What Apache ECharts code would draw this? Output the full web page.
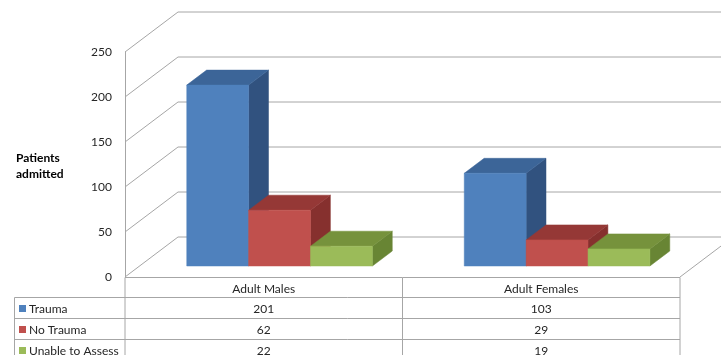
<!DOCTYPE html>
<html><head><meta charset="utf-8">
<script src="https://cdn.jsdelivr.net/npm/echarts@6/dist/echarts.min.js"></script>
<style>html,body{margin:0;padding:0;background:#fff}#c{width:721px;height:355px}</style>
</head><body><div id="c"></div>
<script>
const categories = ['Adult Males', 'Adult Females'];
const seriesNames = ['Trauma', 'No Trauma', 'Unable to Assess'];
const trauma = [201, 103];
const noTrauma = [62, 29];
const unableToAssess = [22, 19];
const yTicks = [0, 50, 100, 150, 200, 250];
const yTitle = ['Patients', 'admitted'];

const seriesValues = [trauma, noTrauma, unableToAssess];
const FONT = 'Lato, "Open Sans", sans-serif';
const faceColors = [
  {front: '#4F81BD', top: '#3C6598', side: '#31527F'},
  {front: '#C0504D', top: '#953836', side: '#86302E'},
  {front: '#9BBB59', top: '#76923C', side: '#688534'}
];
const DX = 53, DY = -40;          // full depth offset of the 3D box
const D0 = 0.275, D1 = 0.65;      // bar depth range (fraction)
const GAP = 0.17, BW = 0.223;     // bar layout inside a category
const GRID_COLOR = '#A6A6A6';
const TEXT = '#262626';

const chart = echarts.init(document.getElementById('c'), null, {renderer: 'canvas'});

function wallItem(params, api) {
  const v = api.value(0);
  const p = api.coord([0, v]);
  const q = api.coord([categories.length, v]);
  const children = [{
    type: 'polyline',
    shape: {points: [[p[0], p[1]], [p[0] + DX, p[1] + DY], [q[0] + DX, q[1] + DY]]},
    style: {stroke: GRID_COLOR, lineWidth: 1, fill: null}
  }];
  if (v === 0) {
    children.push({
      type: 'line',
      shape: {x1: q[0], y1: q[1], x2: q[0] + DX, y2: q[1] + DY},
      style: {stroke: GRID_COLOR, lineWidth: 1}
    });
  }
  return {type: 'group', children};
}

function barRenderer(k) {
  return function (params, api) {
    const i = api.value(0), v = api.value(1);
    const x0 = i + GAP + k * BW, x1 = x0 + BW;
    const a = api.coord([x0, 0]), b = api.coord([x1, v]);
    const fx = DX * D0, fy = DY * D0, bx = DX * D1, by = DY * D1;
    const c = faceColors[k];
    const L = a[0], R = b[0], T = b[1], B = a[1];
    return {type: 'group', children: [
      {type: 'polygon', shape: {points: [[R + fx, T + fy], [R + bx, T + by], [R + bx, B + by], [R + fx, B + fy]]},
        style: {fill: c.side, stroke: c.side, lineWidth: 0.5}},
      {type: 'polygon', shape: {points: [[L + fx, T + fy], [R + fx, T + fy], [R + bx, T + by], [L + bx, T + by]]},
        style: {fill: c.top, stroke: c.top, lineWidth: 0.5}},
      {type: 'rect', shape: {x: L + fx, y: T + fy, width: R - L, height: B - T},
        style: {fill: c.front, stroke: c.front, lineWidth: 0.5}}
    ]};
  };
}

function tableItem(params, api) {
  const p0 = api.coord([0, 0]);
  const pm = api.coord([1, 0]);
  const p2 = api.coord([categories.length, 0]);
  const top = Math.round(p0[1]) + 0.5;
  const HH = 20, RH = 21;
  const leftX = 14.5;
  const bottom = top + HH + RH * seriesNames.length;
  const ch = [];
  const ln = (x1, y1, x2, y2) => ch.push({type: 'line', shape: {x1, y1, x2, y2}, style: {stroke: GRID_COLOR, lineWidth: 1}});
  ln(p0[0], top, p2[0], top);
  for (let r = 0; r <= seriesNames.length; r++) ln(leftX, top + HH + RH * r, p2[0], top + HH + RH * r);
  ln(leftX, top + HH, leftX, bottom);
  ln(p0[0], top, p0[0], bottom);
  ln(pm[0], top, pm[0], bottom);
  ln(p2[0], top, p2[0], bottom);
  categories.forEach((cat, i) => {
    const cx = api.coord([i + 0.5, 0])[0];
    ch.push({type: 'text', style: {text: cat, x: cx, y: top + HH / 2 + 2, align: 'center', verticalAlign: 'middle',
      font: '12px ' + FONT, fill: TEXT}});
    seriesValues.forEach((vals, r) => {
      ch.push({type: 'text', style: {text: String(vals[i]), x: cx, y: top + HH + RH * r + RH / 2 + 1,
        align: 'center', verticalAlign: 'middle', font: '12px ' + FONT, fill: TEXT}});
    });
  });
  seriesNames.forEach((name, r) => {
    const cy = top + HH + RH * r + RH / 2;
    ch.push({type: 'rect', shape: {x: 19, y: cy - 3, width: 7, height: 7}, style: {fill: faceColors[r].front}});
    ch.push({type: 'text', style: {text: name, x: 29, y: cy + 1, align: 'left', verticalAlign: 'middle',
      font: '12px ' + FONT, fill: TEXT}});
  });
  return {type: 'group', children: ch};
}

const series = [{
  type: 'custom', name: 'walls', renderItem: wallItem, clip: false, silent: true,
  data: yTicks.map(v => [v]), encode: {y: 0}, z: 1
}];
seriesValues.forEach((vals, k) => {
  series.push({
    type: 'custom', name: seriesNames[k], renderItem: barRenderer(k), clip: false,
    data: vals.map((v, i) => [i, v]), encode: {x: 0, y: 1}, z: 3
  });
});
series.push({type: 'custom', name: 'table', renderItem: tableItem, clip: false, silent: true,
  data: [[0, 0]], encode: {x: 0, y: 1}, z: 4});

chart.setOption({
  animation: false,
  backgroundColor: '#fff',
  textStyle: {fontFamily: FONT},
  grid: {left: 125, right: 41, top: 52, bottom: 78, containLabel: false, outerBoundsMode: 'none'},
  xAxis: {type: 'value', min: 0, max: categories.length, show: false},
  yAxis: {
    type: 'value', min: 0, max: 250, interval: 50,
    axisLine: {show: true, lineStyle: {color: GRID_COLOR, width: 1}},
    axisTick: {show: false},
    splitLine: {show: false},
    axisLabel: {margin: 13, color: TEXT, fontSize: 12, fontFamily: FONT},
    data: yTicks
  },
  graphic: [{
    type: 'text', left: 16, top: 150,
    style: {text: yTitle.join('\n'), font: 'bold 12px ' + FONT, fill: '#000', align: 'center', lineHeight: 16, x: 22}
  }],
  series
});
</script></body></html>
